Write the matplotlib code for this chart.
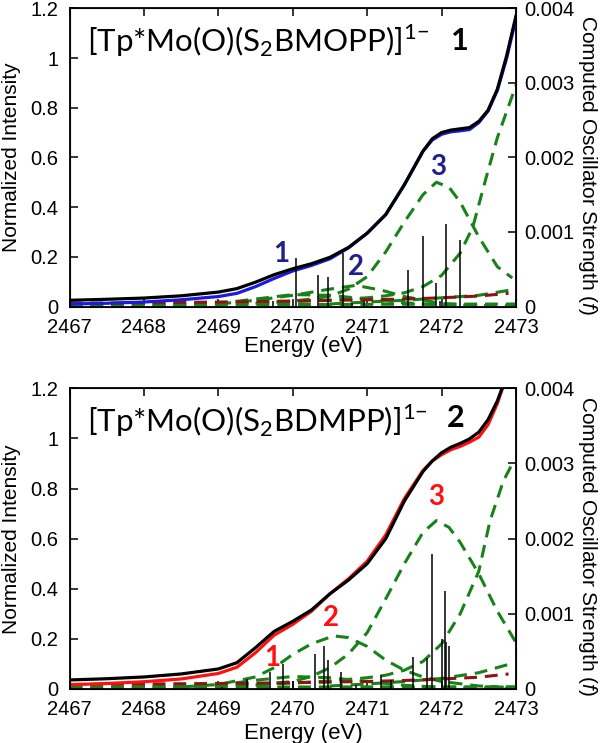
import matplotlib
matplotlib.use("Agg")
import matplotlib.pyplot as plt

plt.rcParams['font.family'] = ['Liberation Sans', 'DejaVu Sans']
plt.rcParams['mathtext.fontset'] = 'custom'
plt.rcParams['mathtext.rm'] = 'Lato'
plt.rcParams['mathtext.it'] = 'Liberation Sans:italic'
plt.rcParams['mathtext.bf'] = 'Lato:bold'

# ---------------- data: panel 1 ----------------
t_exp_x = [2467, 2467.5, 2468, 2468.5, 2469, 2469.25, 2469.5, 2469.75, 2470, 2470.25, 2470.5,
           2470.75, 2471, 2471.25, 2471.5, 2471.75, 2471.875, 2472, 2472.125, 2472.25, 2472.375,
           2472.5, 2472.625, 2472.75, 2472.875, 2473]
t_black = [0.025, 0.029, 0.034, 0.043, 0.058, 0.072, 0.098, 0.128, 0.152, 0.172, 0.198,
           0.238, 0.295, 0.37, 0.49, 0.625, 0.675, 0.70, 0.71, 0.715, 0.72,
           0.745, 0.79, 0.875, 1.01, 1.17]
t_blue = [0.010, 0.013, 0.018, 0.027, 0.040, 0.053, 0.080, 0.113, 0.143, 0.165, 0.192,
          0.236, 0.295, 0.37, 0.49, 0.625, 0.670, 0.693, 0.703, 0.707, 0.712,
          0.74, 0.787, 0.87, 1.0, 1.16]

t_g3_x = [2469.5, 2470, 2470.25, 2470.5, 2470.75, 2471, 2471.25, 2471.5, 2471.75, 2471.93,
          2472.1, 2472.25, 2472.5, 2472.75, 2472.95]
t_g3 = [0.012, 0.022, 0.03, 0.042, 0.07, 0.12, 0.22, 0.34, 0.45, 0.50,
        0.48, 0.42, 0.28, 0.16, 0.115]
t_edge_x = [2467, 2468, 2469, 2469.5, 2470, 2470.5, 2471, 2471.25, 2471.5, 2471.75, 2472,
            2472.25, 2472.42, 2472.6, 2472.75, 2473]
t_edge = [0.004, 0.007, 0.012, 0.016, 0.02, 0.026, 0.035, 0.043, 0.055, 0.08, 0.125,
          0.215, 0.32, 0.52, 0.68, 0.89]
t_g2_x = [2469, 2469.5, 2470, 2470.5, 2470.85, 2471.2, 2471.5, 2472, 2472.5]
t_g2 = [0.01, 0.025, 0.045, 0.07, 0.085, 0.065, 0.04, 0.012, 0.004]
t_g1_x = [2467, 2468, 2468.5, 2469, 2469.5, 2470, 2470.5, 2471, 2471.5, 2472, 2473]
t_g1 = [0.002, 0.003, 0.005, 0.012, 0.03, 0.048, 0.045, 0.03, 0.015, 0.006, 0.002]
t_g4_x = [2470.5, 2471, 2471.5, 2472, 2472.5, 2472.9]
t_g4 = [0.01, 0.018, 0.025, 0.035, 0.045, 0.065]
t_flat_x = [2467, 2470, 2473]
t_flat = [0.006, 0.008, 0.01]
t_red_x = [2467, 2468, 2469, 2470, 2471, 2471.5, 2472, 2472.5, 2472.9]
t_red = [0.013, 0.015, 0.018, 0.022, 0.027, 0.03, 0.035, 0.042, 0.053]

t_stick_x = [2469.74, 2470.05, 2470.34, 2470.47, 2470.67, 2470.80, 2470.96, 2471.55,
             2471.75, 2471.92, 2471.98, 2472.06, 2472.25]
t_stick_f = [0.00007, 0.00065, 0.00042, 0.00040, 0.00072, 0.00005, 0.00008, 0.00049,
             0.00095, 0.00032, 0.00007, 0.0011, 0.00089]

# ---------------- data: panel 2 ----------------
b_exp_x = t_exp_x
b_black = [0.036, 0.041, 0.048, 0.060, 0.080, 0.105, 0.165, 0.23, 0.27, 0.315, 0.38,
           0.435, 0.50, 0.60, 0.75, 0.868, 0.91, 0.943, 0.965, 0.98, 0.998,
           1.025, 1.075, 1.15, 1.25, 1.36]
b_red = [0.017, 0.022, 0.029, 0.040, 0.062, 0.087, 0.145, 0.215, 0.258, 0.31, 0.38,
         0.44, 0.51, 0.615, 0.76, 0.872, 0.91, 0.935, 0.955, 0.968, 0.985,
         1.005, 1.055, 1.14, 1.25, 1.36]

b_g3_x = [2469.5, 2470, 2470.25, 2470.5, 2470.75, 2471, 2471.25, 2471.5, 2471.75, 2471.93,
          2472.1, 2472.25, 2472.5, 2472.75, 2473]
b_g3 = [0.015, 0.03, 0.05, 0.085, 0.14, 0.225, 0.36, 0.50, 0.625, 0.672,
        0.645, 0.585, 0.46, 0.31, 0.185]
b_edge_x = [2467, 2468, 2469, 2469.5, 2470, 2470.5, 2471, 2471.25, 2471.5, 2471.75, 2472,
            2472.25, 2472.5, 2472.65, 2472.83, 2472.97]
b_edge = [0.005, 0.009, 0.014, 0.018, 0.024, 0.032, 0.045, 0.055, 0.075, 0.11, 0.18,
          0.30, 0.47, 0.67, 0.83, 0.91]
b_g2_x = [2468.5, 2469, 2469.5, 2469.75, 2470, 2470.25, 2470.55, 2470.75, 2471, 2471.25,
          2471.5, 2471.75, 2472, 2472.5, 2473]
b_g2 = [0.008, 0.018, 0.048, 0.085, 0.138, 0.18, 0.212, 0.205, 0.17, 0.115,
        0.075, 0.048, 0.03, 0.012, 0.005]
b_g1_x = [2467, 2468, 2468.5, 2469, 2469.5, 2470, 2470.5, 2471, 2471.5, 2472, 2473]
b_g1 = [0.002, 0.003, 0.005, 0.015, 0.035, 0.05, 0.045, 0.03, 0.015, 0.006, 0.002]
b_g4_x = [2470.5, 2471, 2471.5, 2472, 2472.5, 2472.9]
b_g4 = [0.012, 0.02, 0.03, 0.042, 0.065, 0.098]
b_flat_x = [2467, 2470, 2473]
b_flat = [0.007, 0.008, 0.009]
b_red_x = [2467, 2468, 2469, 2470, 2471, 2471.5, 2472, 2472.5, 2472.9]
b_red_base = [0.018, 0.02, 0.022, 0.025, 0.03, 0.034, 0.04, 0.047, 0.06]

b_stick_x = [2469.05, 2469.38, 2469.69, 2469.87, 2470.0, 2470.30, 2470.42, 2470.48, 2470.65,
             2470.85, 2471.19, 2471.32, 2471.62, 2471.80, 2471.87, 2472.0, 2472.04, 2472.06,
             2472.10]
b_stick_f = [0.00003, 0.00013, 0.00022, 0.00033, 0.0001, 0.00046, 0.00057, 0.00038, 0.00023,
             0.00005, 0.00019, 0.00012, 0.00043, 0.00041, 0.0018, 0.00066, 0.0013, 0.00063,
             0.00057]

x_ticks = [2467, 2468, 2469, 2470, 2471, 2472, 2473]
y_ticks = [0, 0.2, 0.4, 0.6, 0.8, 1.0, 1.2]
y_ticklabels = ['0', '0.2', '0.4', '0.6', '0.8', '1', '1.2']
f_ticks = [0, 0.001, 0.002, 0.003, 0.004]
f_ticklabels = ['0', '0.001', '0.002', '0.003', '0.004']

GREEN = '#178217'
DRED = '#8e1414'
BLUE = '#1a1ae0'
RED = '#ff1010'
NAVY = '#1f1f8e'
DASH = (4.2, 2.6)
TICKFS = 14.5

fig = plt.figure(figsize=(6, 7.43), dpi=100)


def panel(rect, exp_x, black, col, g_list, red_x, red_y, sx, sf, title, tnum, labels, labcol):
    ax = fig.add_axes(rect)
    for gx, gy in g_list:
        ax.plot(gx, gy, color=GREEN, lw=2.2, ls=(0, DASH), zorder=2)
    ax.plot(red_x, red_y, color=DRED, lw=2.2, ls=(0, DASH), zorder=2)
    ax.plot(exp_x, col[0], color=col[1], lw=2.3, zorder=3)
    ax.plot(exp_x, black, color='black', lw=2.3, zorder=4)
    ax.set_xlim(2467, 2473)
    ax.set_ylim(0, 1.2)
    ax.set_xticks(x_ticks)
    ax.set_xticklabels([str(v) for v in x_ticks])
    ax.set_yticks(y_ticks)
    ax.set_yticklabels(y_ticklabels)
    ax.tick_params(direction='in', length=6, width=1.1, top=True, right=False,
                   labelsize=TICKFS, pad=8)
    for s in ax.spines.values():
        s.set_linewidth(1.3)
    ax2 = ax.twinx()
    ax2.vlines(sx, 0, sf, color='black', lw=1.1, zorder=5)
    ax2.set_ylim(0, 0.004)
    ax2.set_yticks(f_ticks)
    ax2.set_yticklabels(f_ticklabels)
    ax2.tick_params(direction='in', length=6, width=1.1, labelsize=TICKFS, pad=6)
    ax.text(2467.23, 1.07, title, fontsize=22.5, va='center', ha='left',
            family=['Lato', 'DejaVu Sans'], zorder=6)
    ax.text(tnum[0], tnum[1], tnum[2], fontsize=22, fontweight='bold', va='center',
            ha='center', family=['Lato', 'DejaVu Sans'], zorder=6)
    for lx, ly, lt in labels:
        ax.text(lx, ly, lt, color=labcol, fontsize=20, fontweight='bold', ha='center',
                va='center', family=['Lato', 'DejaVu Sans'], zorder=6)
    return ax


W = 600.0
H = 743.0
top_rect = [69.5 / W, 1 - 306.5 / H, 446.5 / W, 298.2 / H]
bot_rect = [69.5 / W, 1 - 689.0 / H, 446.5 / W, 300.7 / H]

panel(top_rect, t_exp_x, t_black, (t_blue, BLUE),
      [(t_flat_x, t_flat), (t_g1_x, t_g1), (t_g2_x, t_g2), (t_g4_x, t_g4),
       (t_g3_x, t_g3), (t_edge_x, t_edge)],
      t_red_x, t_red, t_stick_x, t_stick_f,
      r'[Tp*Mo(O)(S$_2$BMOPP)]$^{1{-}}$', (2472.25, 1.067, '1'),
      [(2469.84, 0.21, '1'), (2470.85, 0.158, '2'), (2471.95, 0.562, '3')], NAVY)

panel(bot_rect, b_exp_x, b_black, (b_red, RED),
      [(b_flat_x, b_flat), (b_g1_x, b_g1), (b_g2_x, b_g2), (b_g4_x, b_g4),
       (b_g3_x, b_g3), (b_edge_x, b_edge)],
      b_red_x, b_red_base, b_stick_x, b_stick_f,
      r'[Tp*Mo(O)(S$_2$BDMPP)]$^{1{-}}$', (2472.19, 1.08, '2'),
      [(2469.72, 0.124, '1'), (2470.52, 0.284, '2'), (2471.93, 0.766, '3')], RED)

# axis labels
for cy_left, cy_right, cy_energy in [(157.4, 165, 347), (538.7, 546, 733)]:
    fig.text(12 / W, 1 - cy_left / H, 'Normalized Intensity', rotation=90,
             ha='center', va='center', fontsize=15)
    fig.text(588 / W, 1 - cy_right / H, r'Computed Oscillator Strength ($f$)', rotation=270,
             ha='center', va='center', fontsize=15)
    fig.text(303 / W, 1 - cy_energy / H, 'Energy (eV)', ha='center', va='center', fontsize=16)

fig.savefig('out.png', dpi=100)
